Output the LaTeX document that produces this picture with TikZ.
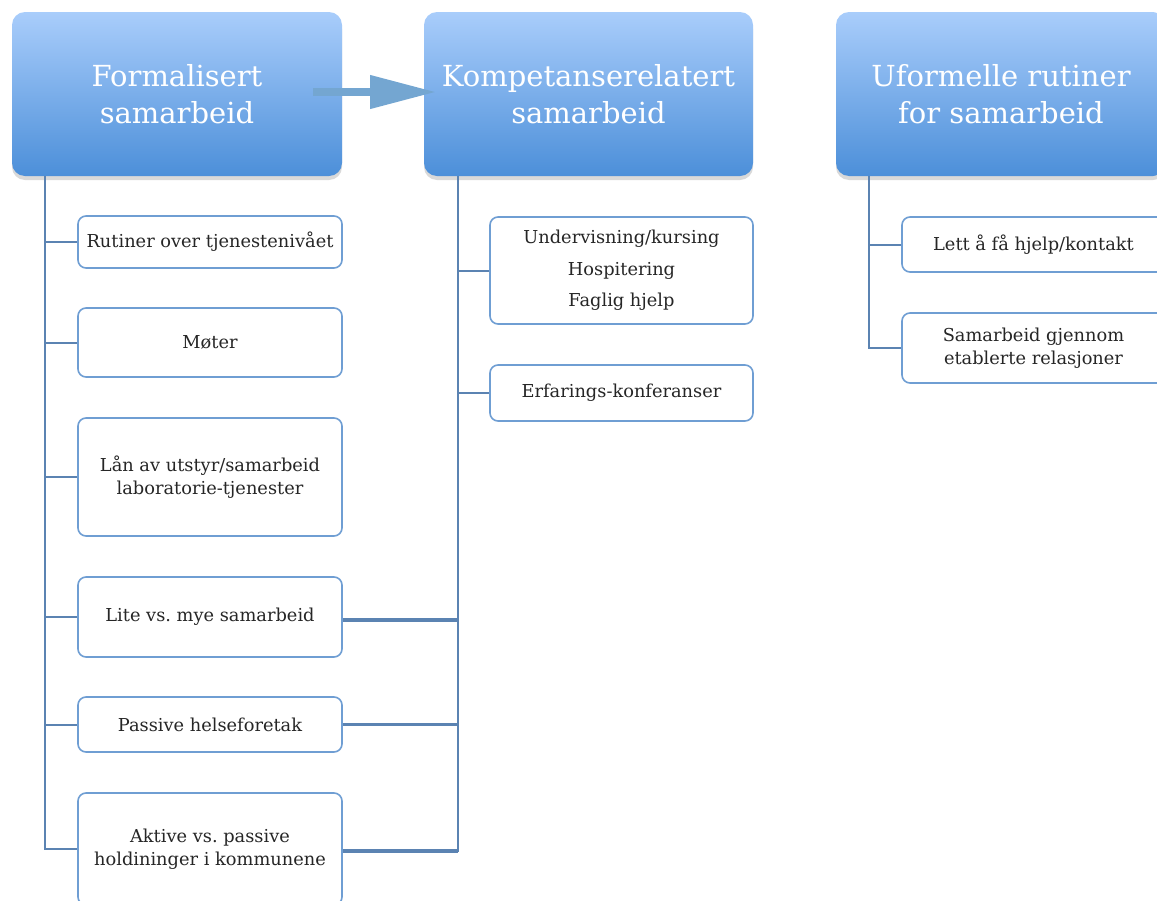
\documentclass[tikz,border=0pt]{standalone}
\usepackage{fontspec}
\setmainfont{DejaVu Serif}
\usetikzlibrary{shadows,arrows.meta}
\definecolor{htop}{HTML}{A9CDFB}
\definecolor{hbot}{HTML}{4C8FD9}
\definecolor{cbord}{HTML}{6F9ED3}
\definecolor{conn}{HTML}{5B83B2}
\definecolor{arr}{HTML}{74A6D1}
\tikzset{
  header/.style={rounded corners=13pt, top color=htop, bottom color=hbot, draw=none,
    drop shadow={shadow xshift=0pt, shadow yshift=-4pt, opacity=0.25, fill=black!60},
    text=white, align=center, font=\fontsize{29}{37}\selectfont, inner sep=0pt},
  child/.style={rounded corners=8pt, draw=cbord, line width=1.6pt, fill=white,
    align=center, font=\fontsize{17.8}{22.5}\selectfont, inner sep=0pt, text=black!85},
  spine/.style={draw=conn, line width=2.4pt},
  branch/.style={draw=conn, line width=2pt},
  cross/.style={draw=conn, line width=3.4pt},
}
\begin{document}
\begin{tikzpicture}[x=1pt,y=-1pt]
\useasboundingbox (0,0) rectangle (1157,900);
% headers
\node[header, minimum width=330pt, minimum height=164pt] (h1) at (177,94) {Formalisert\\samarbeid};
\node[header, minimum width=329pt, minimum height=164pt] (h2) at (588.5,94) {Kompetanserelatert\\samarbeid};
\node[header, minimum width=330pt, minimum height=164pt] (h3) at (1001,94) {Uformelle rutiner\\for samarbeid};
% arrow
\coordinate (a1) at (313,92);
\coordinate (a2) at (436,92);
\draw[arr, line width=7.5pt, -{Triangle[length=66pt,width=32pt]}] (a1) -- (a2);
% column 1 children
\node[child, minimum width=264pt, minimum height=52pt] (r1) at (210,242) {Rutiner over tjenestenivået};
\node[child, minimum width=264pt, minimum height=69pt] (r2) at (210,342.5) {Møter};
\node[child, minimum width=264pt, minimum height=118pt] (r3) at (210,477) {Lån av utstyr/samarbeid\\laboratorie-tjenester};
\node[child, minimum width=264pt, minimum height=80pt] (r4) at (210,617) {Lite vs.\ mye samarbeid};
\node[child, minimum width=264pt, minimum height=55pt] (r5) at (210,724.5) {Passive helseforetak};
\node[child, minimum width=264pt, minimum height=112pt] (r6) at (210,849) {Aktive vs.\ passive\\holdininger i kommunene};
% column 2 children
\node[child, minimum width=263pt, minimum height=107pt, font=\fontsize{17.8}{31.5}\selectfont] (u1) at (621.5,270.5) {Undervisning/kursing\\Hospitering\\Faglig hjelp};
\node[child, minimum width=263pt, minimum height=56pt] (u2) at (621.5,393) {Erfarings-konferanser};
% column 3 children
\node[child, minimum width=263pt, minimum height=55pt] (v1) at (1033.5,244.5) {Lett å få hjelp/kontakt};
\node[child, minimum width=263pt, minimum height=70pt] (v2) at (1033.5,348) {Samarbeid gjennom\\etablerte relasjoner};
% spines
\coordinate (s1) at (45,176);
\coordinate (s2) at (458,176);
\coordinate (s3) at (869,176);
\draw[spine] (s1) |- (r6.west);
\foreach \n in {r1,r2,r3,r4,r5} \draw[branch] (\n.west) -- (\n.west -| s1);
\draw[spine] (s2) |- ([yshift=-2pt]r6.east);
\draw[branch] (u1.west) -- (u1.west -| s2);
\draw[branch] (u2.west) -- (u2.west -| s2);
\draw[cross] ([yshift=-3pt]r4.east) -- ([yshift=-3pt]r4.east -| s2);
\draw[cross] (r5.east) -- (r5.east -| s2);
\draw[cross] ([yshift=-2pt]r6.east) -- ([yshift=-2pt]r6.east -| s2);
\draw[spine] (s3) |- (v2.west);
\draw[branch] (v1.west) -- (v1.west -| s3);
\end{tikzpicture}
\end{document}
